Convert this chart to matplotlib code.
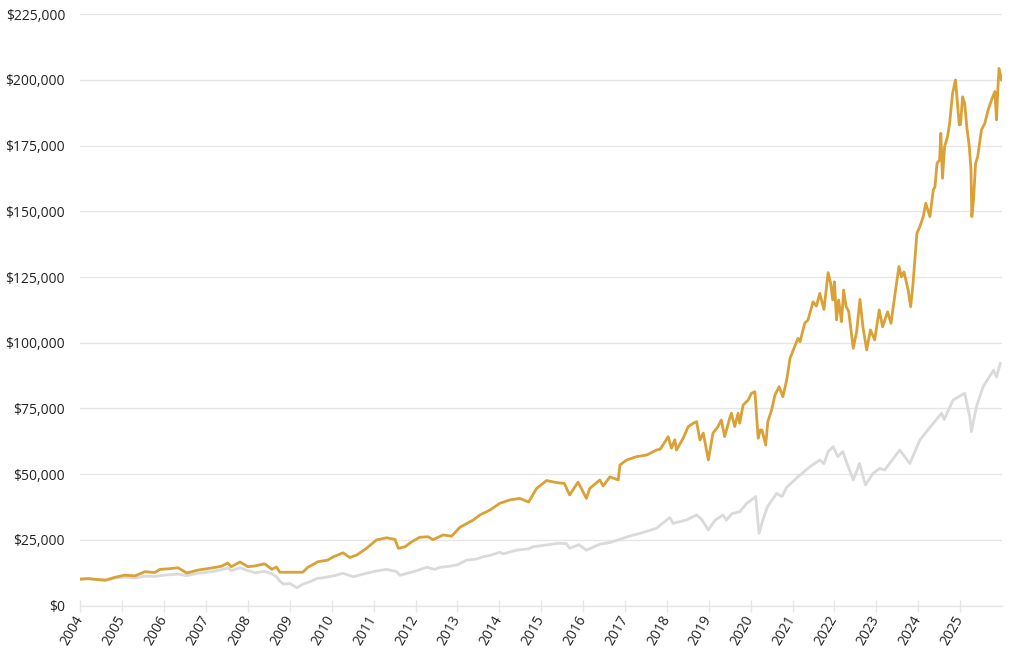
import matplotlib
matplotlib.use("Agg")
import matplotlib.pyplot as plt
from matplotlib.ticker import FuncFormatter

plt.rcParams['font.family'] = ['Open Sans', 'DejaVu Sans']

# ---- data (decimal year, growth of $10,000) ----
strategy_dates = [
    2004.00, 2004.20, 2004.35, 2004.60, 2004.83, 2005.06, 2005.30, 2005.54, 2005.78, 2005.90,
    2006.10, 2006.33, 2006.54, 2006.80, 2007.13, 2007.37, 2007.52, 2007.60, 2007.81, 2008.00,
    2008.17, 2008.40, 2008.57, 2008.68, 2008.76, 2009.31, 2009.43, 2009.55, 2009.67, 2009.90,
    2010.03, 2010.27, 2010.43, 2010.60, 2010.83, 2011.07, 2011.31, 2011.51, 2011.59, 2011.75,
    2011.91, 2012.10, 2012.30, 2012.42, 2012.66, 2012.86, 2013.06, 2013.38, 2013.54, 2013.78,
    2014.01, 2014.25, 2014.49, 2014.70, 2014.89, 2015.13, 2015.37, 2015.55, 2015.68, 2015.88,
    2016.08, 2016.16, 2016.40, 2016.48, 2016.64, 2016.84, 2016.88, 2017.04, 2017.28, 2017.52,
    2017.75, 2017.84, 2017.96, 2018.03, 2018.11, 2018.19, 2018.23, 2018.39, 2018.51, 2018.63,
    2018.71, 2018.79, 2018.87, 2018.99, 2019.10, 2019.22, 2019.30, 2019.38, 2019.50, 2019.54,
    2019.62, 2019.70, 2019.74, 2019.82, 2019.94, 2020.02, 2020.10, 2020.12, 2020.18, 2020.23,
    2020.27, 2020.36, 2020.41, 2020.50, 2020.58, 2020.68, 2020.77, 2020.86, 2020.94, 2021.05,
    2021.13, 2021.18, 2021.29, 2021.37, 2021.49, 2021.57, 2021.65, 2021.75, 2021.85, 2021.91,
    2021.96, 2022.00, 2022.05, 2022.10, 2022.17, 2022.22, 2022.28, 2022.34, 2022.45, 2022.53,
    2022.61, 2022.68, 2022.77, 2022.86, 2022.96, 2023.07, 2023.15, 2023.27, 2023.35, 2023.46,
    2023.54, 2023.60, 2023.66, 2023.76, 2023.82, 2023.87, 2023.92, 2023.97, 2024.04, 2024.12,
    2024.18, 2024.28, 2024.36, 2024.40, 2024.45, 2024.51, 2024.54, 2024.58, 2024.63, 2024.70,
    2024.75, 2024.82, 2024.89, 2024.93, 2024.98, 2025.01, 2025.06, 2025.11, 2025.16, 2025.22,
    2025.26, 2025.28, 2025.32, 2025.37, 2025.42, 2025.51, 2025.59, 2025.67, 2025.75, 2025.83,
    2025.87, 2025.90, 2025.93, 2025.99,
]
strategy_values = [
    10100, 10300, 10000, 9700, 10800, 11600, 11300, 12900, 12600, 13800,
    14000, 14400, 12400, 13500, 14300, 15000, 16200, 14800, 16600, 14800,
    15100, 15900, 13800, 14700, 12700, 12700, 14600, 15600, 16700, 17300,
    18500, 20100, 18300, 19300, 21800, 25000, 25800, 25200, 21800, 22400,
    24300, 26000, 26200, 25100, 26900, 26400, 29800, 32600, 34500, 36400,
    38900, 40200, 40800, 39400, 44600, 47600, 46800, 46500, 42100, 47000,
    40800, 44600, 47800, 45500, 49000, 47800, 53500, 55400, 56700, 57300,
    59200, 59500, 62400, 64300, 59900, 63100, 59200, 63700, 68100, 69400,
    70000, 63000, 65600, 55400, 65600, 68100, 70600, 64300, 71300, 73200,
    68100, 73200, 69400, 76300, 78200, 80800, 81400, 77500, 63700, 66800,
    66800, 61100, 70000, 74400, 80100, 83300, 79500, 85800, 94100, 98500,
    101700, 100400, 107400, 108700, 115600, 114000, 118800, 112700, 126700, 122600,
    116300, 123200, 108700, 116300, 108000, 120100, 113700, 112000, 97900, 104200,
    116500, 106100, 97300, 104900, 101100, 112500, 106100, 111800, 107400, 120100,
    129000, 125100, 127000, 120100, 113700, 121300, 131500, 141700, 144200, 148000,
    153100, 148000, 158100, 159400, 168300, 169500, 179700, 162600, 174600, 178400,
    183500, 194900, 200000, 192400, 182900, 183000, 193600, 191100, 182200, 174600,
    165700, 148000, 154300, 168300, 170800, 181000, 183500, 188600, 192400, 195600,
    184800, 196200, 204400, 200000,
]

benchmark_dates = [
    2004.00, 2004.20, 2004.35, 2004.60, 2004.83, 2005.06, 2005.30, 2005.54, 2005.78, 2006.00,
    2006.33, 2006.54, 2006.80, 2007.13, 2007.37, 2007.52, 2007.60, 2007.81, 2008.00, 2008.17,
    2008.40, 2008.57, 2008.68, 2008.76, 2008.85, 2009.00, 2009.17, 2009.30, 2009.48, 2009.64,
    2009.80, 2010.04, 2010.27, 2010.51, 2010.83, 2011.07, 2011.31, 2011.55, 2011.63, 2011.80,
    2011.95, 2012.27, 2012.45, 2012.60, 2012.82, 2013.00, 2013.22, 2013.45, 2013.62, 2013.80,
    2014.01, 2014.10, 2014.41, 2014.70, 2014.81, 2015.13, 2015.40, 2015.60, 2015.68, 2015.90,
    2016.08, 2016.40, 2016.64, 2016.88, 2017.10, 2017.36, 2017.75, 2018.07, 2018.15, 2018.47,
    2018.71, 2018.83, 2018.99, 2019.15, 2019.34, 2019.42, 2019.55, 2019.74, 2019.90, 2020.06,
    2020.12, 2020.20, 2020.30, 2020.40, 2020.62, 2020.75, 2020.86, 2021.13, 2021.41, 2021.65,
    2021.75, 2021.85, 2021.97, 2022.08, 2022.20, 2022.33, 2022.45, 2022.60, 2022.74, 2022.92,
    2023.08, 2023.20, 2023.56, 2023.80, 2024.04, 2024.36, 2024.56, 2024.62, 2024.83, 2025.11,
    2025.23, 2025.27, 2025.39, 2025.55, 2025.80, 2025.87, 2025.96,
]
benchmark_values = [
    10000, 10200, 9900, 9600, 10500, 10900, 10500, 11200, 11100, 11600,
    12000, 11400, 12300, 12900, 13700, 14300, 13300, 14400, 13300, 12500,
    13000, 12100, 11000, 9300, 8200, 8400, 6800, 8100, 9100, 10300,
    10600, 11300, 12300, 11000, 12300, 13200, 13800, 12900, 11500, 12300,
    12900, 14600, 13800, 14600, 15000, 15500, 17300, 17700, 18600, 19200,
    20300, 19700, 21100, 21600, 22400, 23100, 23700, 23600, 21800, 23200,
    21100, 23400, 24000, 25200, 26400, 27500, 29400, 33500, 31300, 32600,
    34500, 32800, 28800, 32500, 34500, 32500, 35000, 35700, 38800, 40700,
    41500, 27500, 33000, 37600, 42700, 41500, 45000, 49000, 52800, 55400,
    54000, 58600, 60500, 56700, 58600, 52800, 47800, 54100, 45900, 50300,
    52200, 51600, 59200, 54100, 63000, 69400, 73200, 70800, 78200, 80800,
    71900, 66200, 75700, 83300, 89600, 87000, 92200,
]

year_ticks = list(range(2004, 2026))
y_ticks = [0, 25000, 50000, 75000, 100000, 125000, 150000, 175000, 200000, 225000]

GOLD = '#D9A136'
GRAY = '#DADADA'
GRID = '#E6E6E6'
TEXT = '#222222'

fig = plt.figure(figsize=(10.24, 6.60), dpi=100)
ax = fig.add_axes([0.0785, 0.0824, 0.9000, 0.8960])

ax.plot(benchmark_dates, benchmark_values, color=GRAY, lw=2.0, solid_joinstyle='round', zorder=2)
ax.plot(strategy_dates, strategy_values, color=GOLD, lw=2.0, solid_joinstyle='round', zorder=3)

ax.set_xlim(2004, 2026.0)
ax.set_ylim(0, 225000)
ax.set_yticks(y_ticks)
ax.yaxis.set_major_formatter(FuncFormatter(lambda v, p: f"${v:,.0f}"))
ax.set_xticks(year_ticks)
ax.set_xticklabels([str(y) for y in year_ticks], rotation=60, ha='right',
                   va='center', rotation_mode='anchor')

ax.grid(axis='y', color=GRID, lw=1.0, zorder=0)
ax.set_axisbelow(True)
for s in ['top', 'right', 'left']:
    ax.spines[s].set_visible(False)
ax.spines['bottom'].set_color(GRID)
ax.spines['bottom'].set_linewidth(1.0)

ax.tick_params(axis='y', length=0, pad=11, labelsize=10, labelcolor=TEXT)
ax.tick_params(axis='x', direction='inout', length=8, width=1.0, color=GRID,
               pad=4, labelsize=10, labelcolor=TEXT)

fig.savefig('out.png', dpi=100, facecolor='white')
